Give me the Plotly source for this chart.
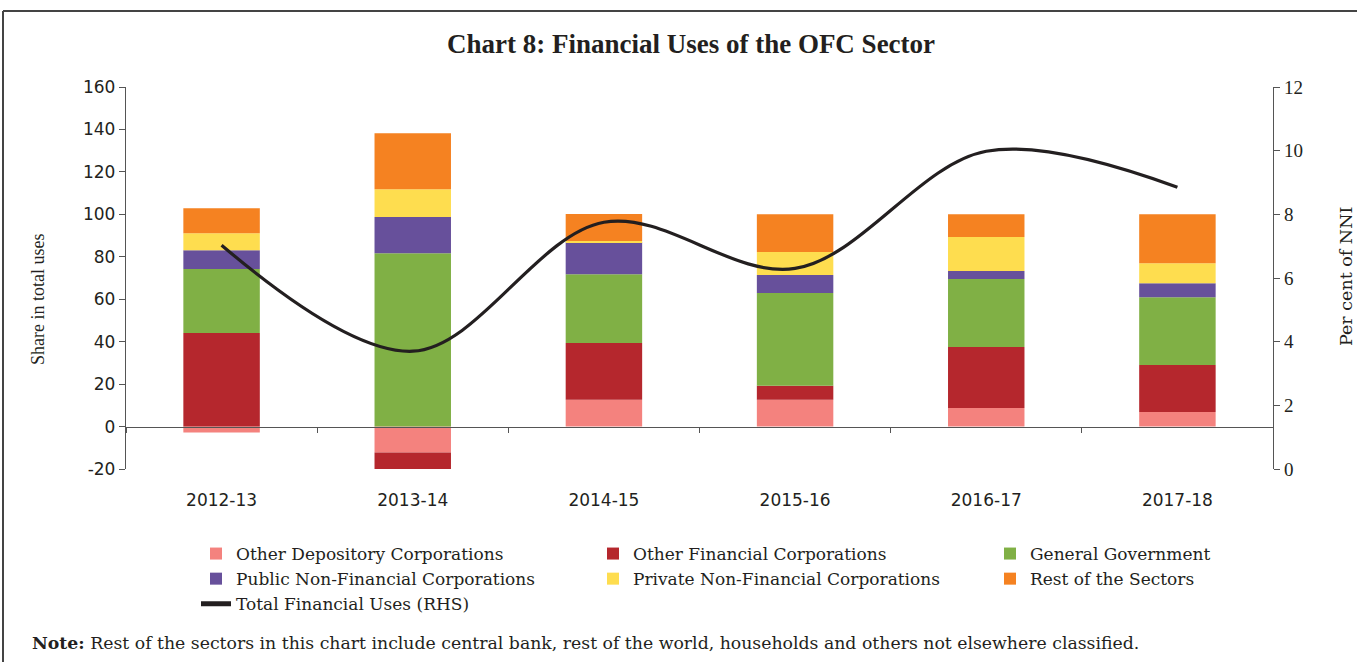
import plotly.graph_objects as go

years = ["2012-13", "2013-14", "2014-15", "2015-16", "2016-17", "2017-18"]
odc = [-2.8, -12.2, 12.6, 12.6, 8.8, 6.9]
ofc = [44.1, -8.5, 26.8, 6.6, 28.7, 22.1]
gg = [30.1, 81.7, 32.4, 43.7, 32.0, 31.9]
pnfc = [8.9, 17.0, 15.1, 8.5, 3.8, 6.6]
priv = [8.0, 13.1, 0.5, 10.8, 16.0, 9.4]
rest = [11.8, 26.4, 12.7, 17.8, 10.7, 23.1]
total = [7.03, 3.7, 7.75, 6.3, 9.98, 8.85]

left_ticks = [-20, 0, 20, 40, 60, 80, 100, 120, 140, 160]
left_tick_labels = ["-20", "0", "20", "40", "60", "80", "100", "120", "140", "160"]

# (name, values, colour, legend column)
series = [
    ("Other Depository Corporations", odc, "#F4827E", "legend"),
    ("Other Financial Corporations", ofc, "#B5272D", "legend2"),
    ("General Government", gg, "#80B045", "legend3"),
    ("Public Non-Financial Corporations", pnfc, "#67509B", "legend"),
    ("Private Non-Financial Corporations", priv, "#FEDD4F", "legend2"),
    ("Rest of the Sectors", rest, "#F58221", "legend3"),
]

SERIF = "Liberation Serif"
WSERIF = "DejaVu Serif"
SANS = "DejaVu Sans"
INK = "#231F20"

# plot area in pixels (for placing decorations)
PL, PR, PT, PB = 126, 1273, 87, 469
PW, PH = PR - PL, PB - PT


def px_x(x):
    return (x - PL) / PW


def px_y(y):
    return (PB - y) / PH


fig = go.Figure()
for name, vals, col, lg in series:
    fig.add_trace(go.Bar(x=years, y=vals, name=name, marker=dict(color=col, line=dict(width=0)),
                         xaxis="x", yaxis="y", legend=lg))

fig.add_trace(go.Scatter(x=years, y=total, name="Total Financial Uses (RHS)", mode="lines",
                         line=dict(color=INK, width=3.2, shape="spline", smoothing=1.0),
                         xaxis="x2", yaxis="y2", legend="legend"))


def legend_at(xpx):
    return dict(orientation="v", xref="paper", yref="paper",
                x=px_x(xpx), xanchor="left", y=px_y(536), yanchor="top",
                traceorder="normal", tracegroupgap=0, itemsizing="constant",
                bgcolor="rgba(0,0,0,0)",
                font=dict(family=WSERIF, size=17.0, color=INK))


fig.update_layout(
    width=1357, height=662,
    paper_bgcolor="white", plot_bgcolor="white",
    margin=dict(l=PL, r=1357 - PR, t=PT, b=662 - PB, autoexpand=False),
    barmode="relative", bargap=0.6,
    showlegend=True,
    title=dict(text="<b>Chart 8: Financial Uses of the OFC Sector</b>", x=691 / 1357, xanchor="center",
               y=1 - 44 / 662, yanchor="middle", yref="container", xref="container",
               font=dict(family=SERIF, size=27, color=INK)),
    xaxis=dict(type="category", categoryarray=years, range=[-0.5, 5.5],
               anchor="free", position=20 / 180,
               showline=True, linecolor="#555555", linewidth=1.3,
               ticks="outside", ticklen=5, tickcolor="#555555", tickson="boundaries",
               showticklabels=False, showgrid=False, zeroline=False),
    xaxis2=dict(type="category", categoryarray=years, range=[-0.5, 5.5],
                overlaying="x", anchor="y", side="bottom",
                showline=False, ticks="", showgrid=False, zeroline=False,
                tickfont=dict(family=SANS, size=17, color=INK), ticklabelstandoff=19),
    yaxis=dict(range=[-20, 160], tickmode="array", tickvals=left_ticks, ticktext=left_tick_labels,
               showgrid=False, zeroline=False,
               showline=True, linecolor="#555555", linewidth=1.3,
               ticks="outside", ticklen=6, tickcolor="#555555",
               tickfont=dict(family=SANS, size=17, color=INK)),
    yaxis2=dict(range=[0, 12], dtick=2, overlaying="y", side="right", anchor="x2",
                showgrid=False, zeroline=False,
                showline=True, linecolor="#555555", linewidth=1.3,
                ticks="outside", ticklen=6, tickcolor="#555555",
                tickfont=dict(family=SERIF, size=19, color=INK)),
    legend=legend_at(196),
    legend2=legend_at(593),
    legend3=legend_at(990),
    annotations=[
        dict(text="Share in total uses", textangle=-90,
             xref="paper", yref="paper", x=px_x(38), y=px_y(299),
             xanchor="center", yanchor="middle", showarrow=False,
             font=dict(family=SERIF, size=18, color=INK)),
        dict(text="Per cent of NNI", textangle=-90,
             xref="paper", yref="paper", x=px_x(1346), y=px_y(277),
             xanchor="center", yanchor="middle", showarrow=False,
             font=dict(family=WSERIF, size=17.5, color=INK)),
        dict(text="<b>Note:</b> Rest of the sectors in this chart include central bank, rest of the world, households and others not elsewhere classified.",
             xref="paper", yref="paper", x=px_x(30), y=px_y(643),
             xanchor="left", yanchor="middle", showarrow=False,
             font=dict(family=WSERIF, size=17.3, color=INK)),
    ],
    shapes=[
        dict(type="line", xref="paper", yref="paper", x0=px_x(3), x1=px_x(1357),
             y0=px_y(11), y1=px_y(11), line=dict(color="#444444", width=2)),
        dict(type="line", xref="paper", yref="paper", x0=px_x(3), x1=px_x(3),
             y0=px_y(11), y1=px_y(662), line=dict(color="#444444", width=2)),
    ],
)

fig.write_html("out.html", config={"displayModeBar": False},
               post_script="document.body.style.margin='0';document.body.style.overflow='hidden';")
